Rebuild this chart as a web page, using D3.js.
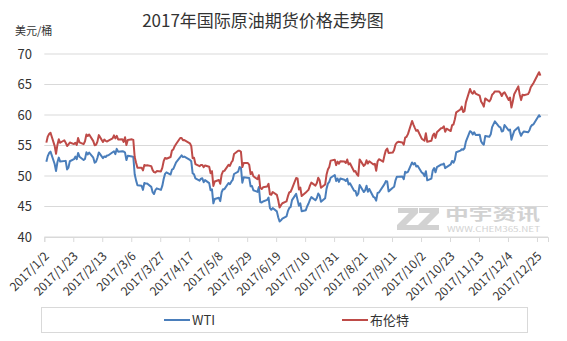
<!DOCTYPE html>
<html lang="zh">
<head>
<meta charset="UTF-8" />
<title>2017年国际原油期货价格走势图</title>
<style>
  body { margin: 0; background: white; overflow: hidden; }
  svg { display: block; }
  text { font-family: "Microsoft YaHei", "Noto Sans CJK SC", "Noto Sans", sans-serif; fill: #333; }
</style>
</head>
<body>
<svg id="chart" width="567" height="341"></svg>
<script src="https://d3js.org/d3.v7.min.js"></script>
<script>
const width = 567, height = 341;

// trading days by month (day of month) and closing prices, USD/bbl
// null = that market was closed that day
const months = [
  { m: 1,  days: [3,4,5,6,9,10,11,12,13,16,17,18,19,20,23,24,25,26,27,30,31],
    wti:   [52.33,53.26,53.76,53.99,51.96,50.82,52.25,53.01,52.37,null,52.48,51.08,51.37,52.42,52.75,53.18,52.75,53.78,53.17,52.63,52.81],
    brent: [55.47,56.46,56.89,57.10,54.94,53.64,55.10,56.01,55.45,55.86,55.47,54.92,55.16,55.49,55.23,55.44,55.08,56.24,55.52,55.23,55.70] },
  { m: 2,  days: [1,2,3,6,7,8,9,10,13,14,15,16,17,20,21,22,23,24,27,28],
    wti:   [53.88,53.54,53.83,53.01,52.17,52.34,53.00,53.86,52.93,53.20,53.11,53.36,53.40,null,54.06,53.59,54.45,53.99,54.05,54.01],
    brent: [56.80,56.56,56.81,55.72,55.05,55.12,55.63,56.70,55.59,55.97,55.75,55.65,55.81,56.18,56.66,56.17,56.58,55.99,56.01,55.59] },
  { m: 3,  days: [1,2,3,6,7,8,9,10,13,14,15,16,17,20,21,22,23,24,27,28,29,30,31],
    wti:   [53.83,52.61,53.33,53.20,53.14,50.28,49.28,48.49,48.40,47.72,48.86,48.75,48.78,48.22,47.34,47.04,47.70,47.97,47.73,48.37,49.51,50.35,50.60],
    brent: [56.36,55.08,55.90,56.01,55.92,53.11,52.19,51.37,51.35,50.92,51.81,51.70,51.76,51.62,50.96,50.64,50.56,50.80,50.75,51.33,52.42,52.96,52.83] },
  { m: 4,  days: [3,4,5,6,7,10,11,12,13,17,18,19,20,21,24,25,26,27,28],
    wti:   [50.24,51.03,51.15,51.70,52.24,53.08,53.40,53.11,53.18,52.65,52.41,50.44,50.27,49.62,49.23,49.56,49.62,48.97,49.33],
    brent: [53.12,54.17,54.36,54.89,55.24,56.23,56.23,55.86,55.89,55.36,54.89,52.93,52.99,51.96,51.60,51.82,51.82,51.44,51.73] },
  { m: 5,  days: [1,2,3,4,5,8,9,10,11,12,15,16,17,18,19,22,23,24,25,26,29,30,31],
    wti:   [48.84,47.66,47.82,45.52,46.22,46.43,45.88,47.33,47.83,47.84,48.85,48.66,49.07,49.35,50.33,50.73,51.47,51.36,48.90,49.80,null,49.66,48.32],
    brent: [51.52,50.46,50.79,48.38,49.10,49.34,48.73,50.22,50.77,50.84,51.82,51.65,52.21,52.51,53.61,54.15,54.15,53.96,51.46,52.15,52.13,51.84,50.31] },
  { m: 6,  days: [1,2,5,6,7,8,9,12,13,14,15,16,19,20,21,22,23,26,27,28,29,30],
    wti:   [48.36,47.66,47.40,48.19,45.72,45.64,45.83,46.08,46.46,44.73,44.46,44.74,44.20,43.23,42.53,42.74,43.01,43.38,44.24,44.74,44.93,46.04],
    brent: [50.63,49.95,49.47,50.12,48.06,47.86,48.15,48.29,48.72,47.00,46.92,47.37,46.91,46.02,44.82,45.22,45.54,45.83,46.65,47.31,47.42,47.92] },
  { m: 7,  days: [3,4,5,6,7,10,11,12,13,14,17,18,19,20,21,24,25,26,27,28,31],
    wti:   [47.07,null,45.13,45.52,44.23,44.40,45.04,45.49,46.08,46.54,46.02,46.40,47.12,46.79,45.77,46.34,47.89,48.75,49.04,49.71,50.17],
    brent: [49.67,49.61,47.79,48.11,46.71,47.29,47.52,47.74,48.42,48.91,48.42,48.84,49.70,49.30,48.06,48.60,50.20,51.07,51.49,52.52,52.65] },
  { m: 8,  days: [1,2,3,4,7,8,9,10,11,14,15,16,17,18,21,22,23,24,25,28,29,30,31],
    wti:   [49.16,49.59,49.03,49.58,49.39,49.17,49.56,48.59,48.82,47.59,47.55,46.78,47.09,48.51,47.37,47.64,48.41,47.43,47.87,46.57,46.44,45.96,47.23],
    brent: [51.78,52.36,52.01,52.42,52.37,52.14,52.70,51.90,52.10,50.73,50.80,50.27,50.03,52.72,51.66,51.87,52.57,52.04,52.41,51.89,52.00,50.86,52.38] },
  { m: 9,  days: [1,4,5,6,7,8,11,12,13,14,15,18,19,20,21,22,25,26,27,28,29],
    wti:   [47.29,null,48.66,49.16,49.09,47.48,48.07,48.23,49.30,49.89,49.89,49.91,49.48,50.69,50.55,50.66,52.22,51.88,52.14,51.56,51.67],
    brent: [52.75,52.34,53.38,54.20,54.49,53.78,53.84,54.27,55.16,55.47,55.62,55.48,55.14,56.29,56.43,56.86,59.02,58.44,57.90,57.41,57.54] },
  { m: 10, days: [2,3,4,5,6,9,10,11,12,13,16,17,18,19,20,23,24,25,26,27,30,31],
    wti:   [50.58,50.42,49.98,50.79,49.29,49.58,50.92,51.30,50.60,51.45,51.87,51.88,52.04,51.29,51.47,51.90,52.47,52.18,52.64,53.90,54.15,54.38],
    brent: [56.12,55.94,55.80,57.00,55.62,55.79,56.61,56.94,56.25,57.17,57.82,57.88,58.15,57.24,57.75,57.37,58.33,58.44,59.30,60.44,60.90,61.37] },
  { m: 11, days: [1,2,3,6,7,8,9,10,13,14,15,16,17,20,21,22,23,24,27,28,29,30],
    wti:   [54.30,54.54,55.64,57.35,57.20,56.81,57.17,56.74,56.76,55.70,55.33,55.14,56.55,56.42,56.83,58.02,null,58.95,58.11,57.99,57.30,57.40],
    brent: [60.49,60.62,62.07,64.27,63.69,63.49,63.93,63.52,63.16,62.21,61.87,61.36,62.72,62.22,62.57,63.32,63.55,63.86,63.84,63.61,63.11,63.57] },
  { m: 12, days: [1,4,5,6,7,8,11,12,13,14,15,18,19,20,21,22,26,27],
    wti:   [58.36,57.47,57.62,55.96,56.69,57.36,57.99,57.14,56.60,57.04,57.30,57.16,57.46,58.09,58.36,58.47,59.97,59.64],
    brent: [63.73,62.45,62.86,61.22,62.20,63.40,64.69,63.34,62.44,63.31,63.23,63.42,63.80,64.56,64.90,65.25,67.02,66.44] }
];

const yTicks = [40, 45, 50, 55, 60, 65, 70];
const seriesNames = ["WTI", "布伦特"];
const colors = ["#4a7ebb", "#be4b48"];

// flatten into per-series point lists, each point at midday of its date
function points(key) {
  const out = [];
  months.forEach(mo => mo.days.forEach((d, i) => {
    const v = mo[key][i];
    if (v != null) out.push({ date: new Date(2017, mo.m - 1, d, 12), value: v });
  }));
  return out;
}
const series = [points("wti"), points("brent")];

const svg = d3.select("#chart");

const x = d3.scaleTime()
  .domain([new Date(2017, 0, 2), new Date(2018, 0, 2)])
  .range([44.3, 548]);
const y = d3.scaleLinear().domain([40, 70]).range([237, 54]);

// tick every 21 days starting 2017/1/2
const xTicks = d3.timeDay.every(1).range(new Date(2017, 0, 2), new Date(2017, 11, 31))
  .filter((d, i) => i % 21 === 0);

// grid
svg.append("g")
  .selectAll("line")
  .data(yTicks)
  .join("line")
  .attr("x1", 44.3).attr("x2", 548)
  .attr("y1", d => y(d)).attr("y2", d => y(d))
  .attr("stroke", "#d9d9d9").attr("stroke-width", 1);

// y labels
svg.append("g")
  .selectAll("text")
  .data(yTicks)
  .join("text")
  .attr("x", 32).attr("y", d => y(d) + 4.5)
  .attr("text-anchor", "end")
  .attr("font-size", 13)
  .text(d => d);

// x axis
const xAxis = d3.axisBottom(x)
  .tickValues(xTicks)
  .tickSize(5)
  .tickFormat(d3.timeFormat("%Y/%-m/%-d"));

const gx = svg.append("g")
  .attr("transform", `translate(0,${y(40)})`)
  .call(xAxis);
gx.select(".domain").attr("stroke", "#d9d9d9");
gx.selectAll(".tick line").attr("stroke", "#d9d9d9");
gx.selectAll(".tick text")
  .attr("font-size", 12)
  .attr("font-family", "\"Microsoft YaHei\", \"Noto Sans CJK SC\", sans-serif")
  .attr("fill", "#333")
  .attr("text-anchor", "end")
  .attr("dy", null)
  .attr("y", 0)
  .attr("transform", "translate(5,20) rotate(-45)");

// watermark
const wm = svg.append("g").attr("fill", "#d2d2d2");
wm.append("path")
  .attr("d", "M398,208 L418,208 L418,213 L406,225 L418,225 L418,230 L397,230 L397,225 L409,213 L398,213 Z M419,208 L439,208 L439,213 L427,225 L439,225 L439,230 L418,230 L418,225 L430,213 L419,213 Z");
wm.append("text")
  .attr("x", 445).attr("y", 220)
  .attr("font-size", 16).attr("font-weight", "bold")
  .attr("textLength", 95).attr("lengthAdjust", "spacingAndGlyphs")
  .style("fill", "#d2d2d2")
  .text("中宇资讯");
wm.append("text")
  .attr("x", 447).attr("y", 232)
  .attr("font-size", 7)
  .attr("font-family", "\"Liberation Sans\", sans-serif")
  .attr("textLength", 93).attr("lengthAdjust", "spacingAndGlyphs")
  .style("fill", "#d2d2d2")
  .text("WWW.CHEM365.NET");

// lines
const line = d3.line()
  .x(d => x(d.date))
  .y(d => y(d.value));

svg.append("g")
  .selectAll("path")
  .data(series)
  .join("path")
  .attr("fill", "none")
  .attr("stroke", (d, i) => colors[i])
  .attr("stroke-width", 2)
  .attr("stroke-linejoin", "round")
  .attr("d", line);

// title and unit
svg.append("text")
  .attr("x", 263).attr("y", 27)
  .attr("text-anchor", "middle")
  .attr("font-size", 17)
  .text("2017年国际原油期货价格走势图");

svg.append("text")
  .attr("x", 15).attr("y", 35)
  .attr("font-size", 11)
  .text("美元/桶");

// legend
svg.append("rect")
  .attr("x", 41.5).attr("y", 307.5)
  .attr("width", 486).attr("height", 25)
  .attr("fill", "white")
  .attr("stroke", "#d9d9d9");

const legendX = [164, 342];
const lg = svg.append("g")
  .selectAll("g")
  .data(seriesNames)
  .join("g")
  .attr("transform", (d, i) => `translate(${legendX[i]},320)`);
lg.append("line")
  .attr("x1", 0).attr("x2", 26)
  .attr("stroke", (d, i) => colors[i])
  .attr("stroke-width", 2);
lg.append("text")
  .attr("x", 28).attr("y", 4.5)
  .attr("font-size", 13)
  .text(d => d);
</script>
</body>
</html>
